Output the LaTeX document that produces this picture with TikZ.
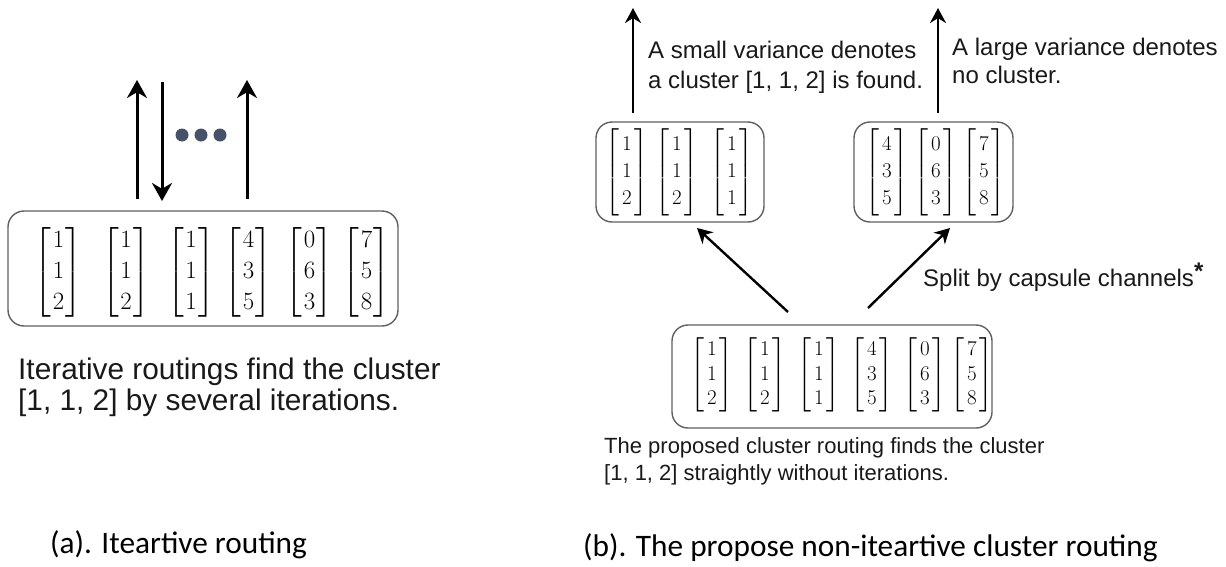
\documentclass[tikz,border=0pt]{standalone}
\usepackage[no-math]{fontspec}
\usepackage{amsmath}
\newfontfamily\arial{Liberation Sans}
\newfontfamily\capfont{Carlito}
\newfontfamily\digitfont{Latin Modern Roman}
\usetikzlibrary{arrows.meta}
\newcommand\mvec[3]{$\left[\begin{tabular}{@{\hspace{\matpad}}c@{\hspace{\matpad}}}#1\\#2\\#3\end{tabular}\right]$}
\newlength\matpad
\definecolor{boxgray}{RGB}{95,95,95}
\definecolor{dotc}{RGB}{70,82,104}
\definecolor{txt}{RGB}{25,25,25}
\begin{document}
\begin{tikzpicture}[x=1pt,y=-1pt,
  box/.style={draw=boxgray, line width=1.4pt, rounded corners=16pt, inner sep=0pt},
  matbig/.style={inner sep=0pt, font=\digitfont\fontsize{24.88}{24}\selectfont, execute at begin node={\def\arraystretch{1.3}\setlength\matpad{1.5pt}}},
  matsmall/.style={inner sep=0pt, font=\digitfont\fontsize{21}{24}\selectfont, execute at begin node={\def\arraystretch{1.12}\setlength\matpad{2.5pt}}},
  matbot/.style={inner sep=0pt, font=\digitfont\fontsize{21}{24}\selectfont, execute at begin node={\def\arraystretch{1.04}\setlength\matpad{2.5pt}}},
  bigarrow/.style={line width=3pt, -{Stealth[length=18pt,width=20pt]}},
  thinarrow/.style={line width=2.4pt, -{Stealth[length=15pt,width=16pt]}},
  lbl/.style={align=left, inner sep=0pt, anchor=west, text=txt},
  dot/.style={circle, fill=dotc, minimum size=13pt, inner sep=0pt},
]
\useasboundingbox (0,0) rectangle (1226,566);

% ---------- (a) iterative routing ----------
\node[box, minimum width=390pt, minimum height=115pt] (A) at (203,268.5) {};
\node[matbig] (a1) at (58.5,272) {\mvec{1}{1}{2}};
\node[matbig] (a2) at (126,272) {\mvec{1}{1}{2}};
\node[matbig] (a3) at (191,272) {\mvec{1}{1}{1}};
\node[matbig] (a4) at (248.5,272) {\mvec{4}{3}{5}};
\node[matbig] (a5) at (309.5,272) {\mvec{0}{6}{3}};
\node[matbig] (a6) at (366.5,272) {\mvec{7}{5}{8}};

\coordinate (u1s) at (137,199);
\coordinate (u1e) at (137,80);
\coordinate (d1s) at (162,82);
\coordinate (d1e) at (162,201);
\coordinate (u2s) at (247,199);
\coordinate (u2e) at (247,80);
\draw[bigarrow] (u1s) -- (u1e);
\draw[bigarrow] (d1s) -- (d1e);
\draw[bigarrow] (u2s) -- (u2e);
\node[dot] (dt1) at (182,135) {};
\node[dot] (dt2) at (201,135) {};
\node[dot] (dt3) at (220,135) {};

\node[lbl, font=\arial\fontsize{29.8}{31}\selectfont] (ta) at (18,387.5)
  {Iterative routings find the cluster\\{[}1, 1, 2] by several iterations.};
\node[lbl, font=\capfont\fontsize{31.3}{36}\selectfont, text=black] (capa) at (50,545) {(a). Iteartive routing};

% ---------- (b) non-iterative cluster routing ----------
\node[box, minimum width=168pt, minimum height=100pt] (B1) at (680,172) {};
\node[box, minimum width=159pt, minimum height=100pt] (B2) at (933.5,172) {};
\node[matsmall] (b1) at (627,172) {\mvec{1}{1}{2}};
\node[matsmall] (b2) at (677,172) {\mvec{1}{1}{2}};
\node[matsmall] (b3) at (732,172) {\mvec{1}{1}{1}};
\node[matsmall] (b4) at (887,172) {\mvec{4}{3}{5}};
\node[matsmall] (b5) at (936,172) {\mvec{0}{6}{3}};
\node[matsmall] (b6) at (984,172) {\mvec{7}{5}{8}};

\node[box, minimum width=320pt, minimum height=103pt] (C) at (832,376.5) {};
\node[matbot] (c1) at (712,375) {\mvec{1}{1}{2}};
\node[matbot] (c2) at (765,375) {\mvec{1}{1}{2}};
\node[matbot] (c3) at (819,375) {\mvec{1}{1}{1}};
\node[matbot] (c4) at (872,375) {\mvec{4}{3}{5}};
\node[matbot] (c5) at (925,375) {\mvec{0}{6}{3}};
\node[matbot] (c6) at (972,375) {\mvec{7}{5}{8}};

\coordinate (v1s) at (633,113);
\coordinate (v1e) at (633,8);
\coordinate (v2s) at (938,113);
\coordinate (v2e) at (938,8);
\draw[thinarrow] (v1s) -- (v1e);
\draw[thinarrow] (v2s) -- (v2e);

\coordinate (s1s) at (788,312);
\coordinate (s1e) at (697,228);
\coordinate (s2s) at (868,308);
\coordinate (s2e) at (950,228);
\draw[thinarrow] (s1s) -- (s1e);
\draw[thinarrow] (s2s) -- (s2e);

\node[lbl, font=\arial\fontsize{24}{30}\selectfont] (tsmall) at (648,67)
  {A small variance denotes\\a cluster [1, 1, 2] is found.};
\node[lbl, font=\arial\fontsize{24}{28}\selectfont] (tlarge) at (952,61)
  {A large variance denotes\\no cluster.};
\node[lbl, font=\arial\fontsize{24}{28}\selectfont] (tsplit) at (923,277)
  {Split by capsule channels\raisebox{7pt}{\bfseries *}};
\node[lbl, font=\arial\fontsize{22}{27}\selectfont] (tprop) at (604,461.5)
  {The proposed cluster routing finds the cluster\\{[}1, 1, 2] straightly without iterations.};
\node[lbl, font=\capfont\fontsize{31.3}{36}\selectfont, text=black] (capb) at (583,548) {(b). The propose non-iteartive cluster routing};
\end{tikzpicture}
\end{document}
